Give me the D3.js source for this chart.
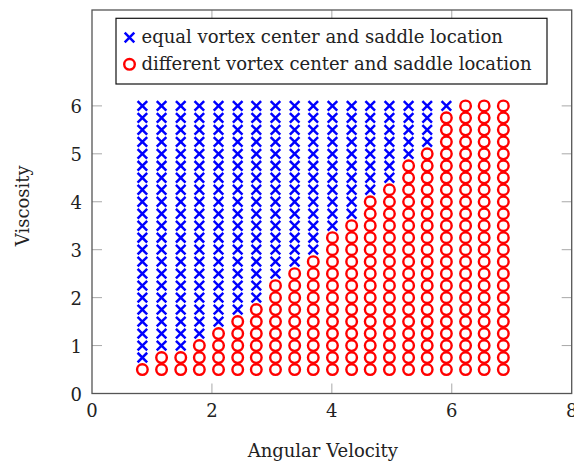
<!DOCTYPE html>
<html><head><meta charset="utf-8">
<script src="https://cdn.jsdelivr.net/npm/d3@7/dist/d3.min.js"></script>
<style>body{margin:0;background:#fff}svg{display:block}text{font-family:"DejaVu Serif",serif;fill:#222}</style>
</head><body><svg id="c" width="574" height="464"></svg>
<script>
// Data
const angularVelocity = [0.84, 1.16, 1.48, 1.79, 2.11, 2.43, 2.74, 3.06, 3.38, 3.69, 4.01, 4.33, 4.64, 4.96, 5.28, 5.59, 5.91, 6.23, 6.54, 6.86];
const viscosity = [0.5, 0.75, 1.0, 1.25, 1.5, 1.75, 2.0, 2.25, 2.5, 2.75, 3.0, 3.25, 3.5, 3.75, 4.0, 4.25, 4.5, 4.75, 5.0, 5.25, 5.5, 5.75, 6.0];
// highest viscosity in each column with different vortex center and saddle location
const differentUpTo = [0.5, 0.75, 0.75, 1.0, 1.25, 1.5, 1.75, 2.25, 2.5, 2.75, 3.25, 3.5, 4.0, 4.25, 4.75, 5.0, 5.75, 6.0, 6.0, 6.0];
const xTicks = [0, 2, 4, 6, 8];
const yTicks = [0, 1, 2, 3, 4, 5, 6];
const seriesNames = ["equal vortex center and saddle location", "different vortex center and saddle location"];

const equalPts = [], diffPts = [];
angularVelocity.forEach((w, i) => viscosity.forEach(v => {
  (v <= differentUpTo[i] ? diffPts : equalPts).push({x: w, y: v});
}));

const svg = d3.select("#c");
const L = 92, R = 571.7, T = 10, B = 393.5;
const x = d3.scaleLinear().domain([0, 8]).range([L, R]);
const y = d3.scaleLinear().domain([0, 8]).range([B, T]);
const tickLen = 10;
const fs = 18;

// ticks (inward, all four sides)
const tg = svg.append("g").attr("stroke", "#a8a8a8").attr("stroke-width", 1);
xTicks.slice(1, -1).forEach(t => {
  tg.append("line").attr("x1", x(t)).attr("x2", x(t)).attr("y1", B).attr("y2", B - tickLen);
  tg.append("line").attr("x1", x(t)).attr("x2", x(t)).attr("y1", T).attr("y2", T + tickLen);
});
yTicks.slice(1).forEach(t => {
  tg.append("line").attr("y1", y(t)).attr("y2", y(t)).attr("x1", L).attr("x2", L + tickLen);
  tg.append("line").attr("y1", y(t)).attr("y2", y(t)).attr("x1", R).attr("x2", R - tickLen);
});

// frame
svg.append("rect").attr("x", L).attr("y", T).attr("width", R - L).attr("height", B - T)
  .attr("fill", "none").attr("stroke", "#555").attr("stroke-width", 1.3);

// tick labels
svg.append("g").selectAll("text").data(xTicks).join("text")
  .attr("x", d => x(d)).attr("y", B + 23).attr("text-anchor", "middle").attr("font-size", fs).text(d => d);
svg.append("g").selectAll("text").data(yTicks).join("text")
  .attr("x", 82).attr("y", d => y(d) + 7).attr("text-anchor", "end").attr("font-size", fs).text(d => d);

// axis labels
svg.append("text").attr("x", (L + R) / 2 - 9).attr("y", 457).attr("text-anchor", "middle").attr("font-size", fs).text("Angular Velocity");
svg.append("text").attr("transform", `translate(29,${(T + B) / 2 + 4}) rotate(-90)`).attr("text-anchor", "middle").attr("font-size", fs).text("Viscosity");

// marks
const blue = "#0000ff", red = "#ff0000";
const cs = 4.8;
function cross(g, cx, cy) {
  g.append("path").attr("d", `M${cx - cs},${cy - cs}L${cx + cs},${cy + cs}M${cx - cs},${cy + cs}L${cx + cs},${cy - cs}`)
    .attr("stroke", blue).attr("stroke-width", 2.5).attr("fill", "none");
}
const gx = svg.append("g");
equalPts.forEach(p => cross(gx, x(p.x), y(p.y)));
svg.append("g").selectAll("circle").data(diffPts).join("circle")
  .attr("cx", d => x(d.x)).attr("cy", d => y(d.y)).attr("r", 5.3)
  .attr("fill", "none").attr("stroke", red).attr("stroke-width", 2.4);

// legend
const lg = svg.append("g");
lg.append("rect").attr("x", 116).attr("y", 18.3).attr("width", 431).attr("height", 65.7)
  .attr("fill", "#fff").attr("stroke", "#111").attr("stroke-width", 1.2);
cross(lg, 129.5, 37.5);
lg.append("circle").attr("cx", 129.5).attr("cy", 64.3).attr("r", 5.3).attr("fill", "none").attr("stroke", red).attr("stroke-width", 2.4);
lg.append("text").attr("x", 141.5).attr("y", 43).attr("font-size", fs).text(seriesNames[0]);
lg.append("text").attr("x", 141.5).attr("y", 70).attr("font-size", fs).text(seriesNames[1]);
</script></body></html>
